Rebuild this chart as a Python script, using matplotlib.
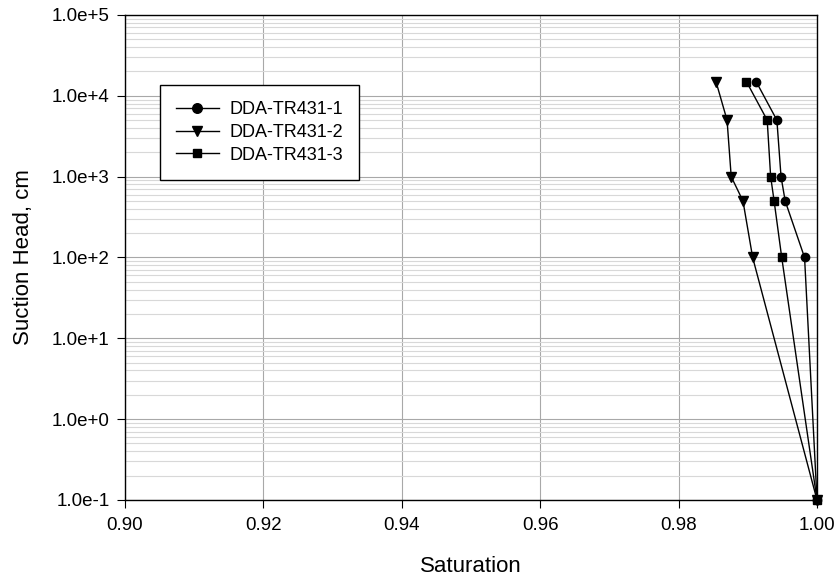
import matplotlib.pyplot as plt
from matplotlib.ticker import FixedLocator, FuncFormatter, LogLocator, NullFormatter

plt.rcParams['font.family'] = ['Liberation Sans', 'DejaVu Sans']

# Datos
suction = [15000, 5000, 1000, 500, 100, 0.1]
sat_1 = [0.9912, 0.9942, 0.9948, 0.9954, 0.9982, 1.0]
sat_2 = [0.9854, 0.9870, 0.9876, 0.9893, 0.9907, 1.0]
sat_3 = [0.9898, 0.9928, 0.9933, 0.9938, 0.9949, 1.0]
labels = ["DDA-TR431-1", "DDA-TR431-2", "DDA-TR431-3"]
x_ticks = [0.90, 0.92, 0.94, 0.96, 0.98, 1.00]

fig = plt.figure(figsize=(8.39, 5.85), dpi=100)
ax = fig.add_axes([0.149, 0.1453, 0.8248, 0.8291])

ax.plot(sat_1, suction, color="black", lw=1, marker="o", ms=6, label=labels[0], clip_on=False, zorder=3)
ax.plot(sat_2, suction, color="black", lw=1, marker="v", ms=6.5, label=labels[1], clip_on=False, zorder=3)
ax.plot(sat_3, suction, color="black", lw=1, marker="s", ms=5.5, label=labels[2], clip_on=False, zorder=3)

ax.set_yscale("log")
ax.set_xlim(0.90, 1.00)
ax.set_ylim(0.1, 1e5)
ax.xaxis.set_major_locator(FixedLocator(x_ticks))
ax.xaxis.set_major_formatter(FuncFormatter(lambda v, p: f"{v:.2f}"))
ax.yaxis.set_major_locator(LogLocator(base=10, numticks=10))
ax.yaxis.set_minor_locator(LogLocator(base=10, subs=range(2, 10), numticks=20))
ax.yaxis.set_minor_formatter(NullFormatter())
ax.yaxis.set_major_formatter(FuncFormatter(lambda v, p: f"{v:.1e}".replace("e+0", "e+").replace("e-0", "e-")))

ax.grid(True, which="major", color="#a8a8a8", lw=0.8)
ax.grid(True, which="minor", axis="y", color="#d8d8d8", lw=0.8)
ax.set_axisbelow(True)
ax.tick_params(axis="both", which="major", labelsize=13.5, direction="out", length=6, color="black")
ax.tick_params(axis="y", which="major", pad=5)
ax.tick_params(axis="x", which="major", pad=6)
ax.tick_params(axis="y", which="minor", length=0)
for s in ax.spines.values():
    s.set_color("black")
    s.set_linewidth(1)

ax.set_xlabel("Saturation", fontsize=16, va="center")
ax.set_ylabel("Suction Head, cm", fontsize=16, va="center")
ax.xaxis.set_label_coords(0.5, -0.138)
ax.yaxis.set_label_coords(-0.147, 0.5)

leg = ax.legend(loc="upper left", bbox_to_anchor=(0.0506, 0.8557), borderaxespad=0,
                fontsize=13, frameon=True, fancybox=False, framealpha=1, edgecolor="black",
                handlelength=2.35, handletextpad=0.6, borderpad=0.9, labelspacing=0.32,
                markerscale=1.15)
leg.get_frame().set_linewidth(1)

fig.savefig("out.png", dpi=100)
